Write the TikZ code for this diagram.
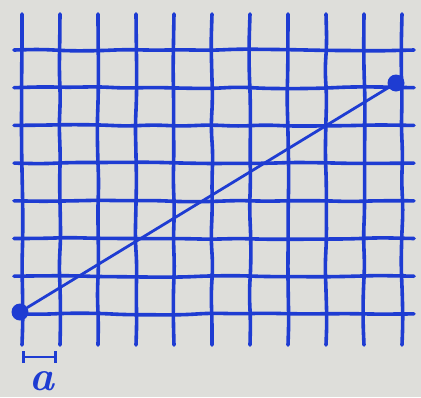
\documentclass[tikz,border=0pt]{standalone}
\usetikzlibrary{arrows.meta,positioning,calc,decorations.pathmorphing}
\definecolor{ink}{HTML}{1E3CD2}
\definecolor{paper}{HTML}{DEDEDA}

\begin{document}
\begin{tikzpicture}[x=1pt,y=-1pt,
  pen/.style={draw=ink,line width=3.6pt,line cap=round,
    decorate,decoration={random steps,segment length=28pt,amplitude=1pt},
    rounded corners=10pt},
  dot/.style={circle,fill=ink,inner sep=0pt,minimum size=17pt},
  chord/.style={draw=ink,line width=2.8pt,line cap=round},
]
  \pgfmathsetseed{11}
  \fill[paper] (0,0) rectangle (421,397);
  \useasboundingbox (0,0) rectangle (421,397);
  % grid
  \foreach \i in {0,...,10}
    \draw[pen] (22+38*\i,14) -- (22+38*\i,345);
  \foreach \j in {0,...,7}
    \draw[pen] (14,50+37.7*\j) -- (414,50+37.7*\j);
  % end points and chord
  \node[dot] (start) at (20,312) {};
  \node[dot] (end) at (396,83) {};
  \draw[chord] (start) -- (end);
  % scale bar
  \coordinate (barl) at (22,357);
  \coordinate (barr) at (57,357);
  \draw[chord,{Bar[width=12pt,line width=3pt]}-{Bar[width=12pt,line width=3pt]}] (barl) -- (barr);
  \node[text=ink,font=\fontsize{42}{42}\selectfont\bfseries\itshape,inner sep=0pt,anchor=base]
    (alabel) at ($(barl)!0.5!(barr)+(2,33)$) {a};
\end{tikzpicture}
\end{document}
